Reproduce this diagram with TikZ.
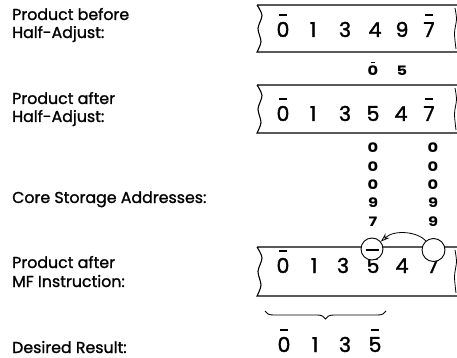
\documentclass[tikz,border=0pt]{standalone}
\usepackage{fontspec}
\setmainfont{Poppins}[FakeBold=1.2]
\newfontfamily\digf{Poppins}[FakeBold=1.6]
\newfontfamily\smdig{Poppins}[FakeStretch=1.25]
\usetikzlibrary{arrows.meta,decorations.pathreplacing}
\newcommand\ob[1]{\setbox0\hbox{#1}\rlap{\hbox to\wd0{\hss\raisebox{1.02em}{\rule{0.36em}{0.09em}}\hss}}\box0}
\tikzset{
  lbl/.style={anchor=base west,inner sep=0pt,font=\fontsize{15.8}{15.8}\selectfont},
  big/.style={anchor=base,inner sep=0pt,font=\digf\fontsize{20.5}{20.5}\selectfont},
  sml/.style={anchor=base,inner sep=0pt,font=\smdig\bfseries\fontsize{13}{13}\selectfont},
  tape/.style={line width=1.1pt},
  ring/.style={circle,draw,line width=0.9pt,fill=white,minimum size=23pt,inner sep=0pt},
}
\begin{document}
\begin{tikzpicture}[x=1pt,y=-1pt]
\useasboundingbox (0,0) rectangle (457,358);
% labels
\node[lbl] (l1a) at (12,20) {Product before};
\node[lbl] (l1b) at (12,38) {Half-Adjust:};
\node[lbl] (l2a) at (12,104) {Product after};
\node[lbl] (l2b) at (12,122) {Half-Adjust:};
\node[lbl] (l3) at (12,203) {Core Storage Addresses:};
\node[lbl] (l4a) at (12,268) {Product after};
\node[lbl] (l4b) at (12,287) {MF Instruction:};
\node[lbl] (l5) at (12,353) {Desired Result:};
% tapes
\foreach \t/\b in {5/52, 85/133, 247/296}{
  \draw[tape] (458,\t) -- (257,\t)
     plot[smooth] coordinates {(257,\t) (262,\t+0.22*\b-0.22*\t) (258,\t+0.5*\b-0.5*\t) (261,\t+0.78*\b-0.78*\t) (257,\b)}
     -- (458,\b);
  \draw[line width=0.8pt] plot[smooth] coordinates {(455,\t+3) (456.5,\t+0.3*\b-0.3*\t) (454.5,\t+0.6*\b-0.6*\t) (456,\b-3)};
}
% tape 1
\node[big] (a1) at (283,37) {\ob{0}};
\node[big] (a2) at (313,37) {1};
\node[big] (a3) at (345,37) {3};
\node[big] (a4) at (375,37) {4};
\node[big] (a5) at (402,37) {9};
\node[big] (a6) at (429,37) {\ob{7}};
% half adjust digits
\node[sml] (h1) at (373,76) {\ob{0}};
\node[sml] (h2) at (402,76) {5};
% tape 2
\node[big] (b1) at (283,121) {\ob{0}};
\node[big] (b2) at (313,121) {1};
\node[big] (b3) at (345,121) {3};
\node[big] (b4) at (373,121) {5};
\node[big] (b5) at (401,121) {4};
\node[big] (b6) at (429,121) {\ob{7}};
% addresses
\foreach \d [count=\i] in {0,0,0,9,7}{\node[sml] (p\i) at (373,153+18.3*\i-18.3) {\d};}
\foreach \d [count=\i] in {0,0,0,9,9}{\node[sml] (q\i) at (433,153+18.3*\i-18.3) {\d};}
% tape 3
\node[big] (c1) at (283,273) {\ob{0}};
\node[big] (c2) at (314,273) {1};
\node[big] (c3) at (343,273) {3};
\node[big] (c4) at (373,273) {5};
\node[big] (c5) at (402,273) {4};
\node[big] (c6) at (433,273) {7};
\node[ring,minimum size=22pt] (r1) at (372,249) {};
\node[ring] (r2) at (433.5,250) {};
\draw[line width=1.4pt] (365.5,250) -- (378.5,250);
\draw[line width=0.8pt,-{Stealth[length=9pt,width=6pt,open]}] (r2.130) .. controls (418,232) and (395,229) .. (r1.40);
% brace
\draw[line width=0.9pt,decorate,decoration={brace,mirror,amplitude=8pt}] (265,311) -- (386,311);
% desired result
\node[big] (d1) at (284,352) {\ob{0}};
\node[big] (d2) at (315,352) {1};
\node[big] (d3) at (345,352) {3};
\node[big] (d4) at (375,352) {\ob{5}};
\end{tikzpicture}
\end{document}
